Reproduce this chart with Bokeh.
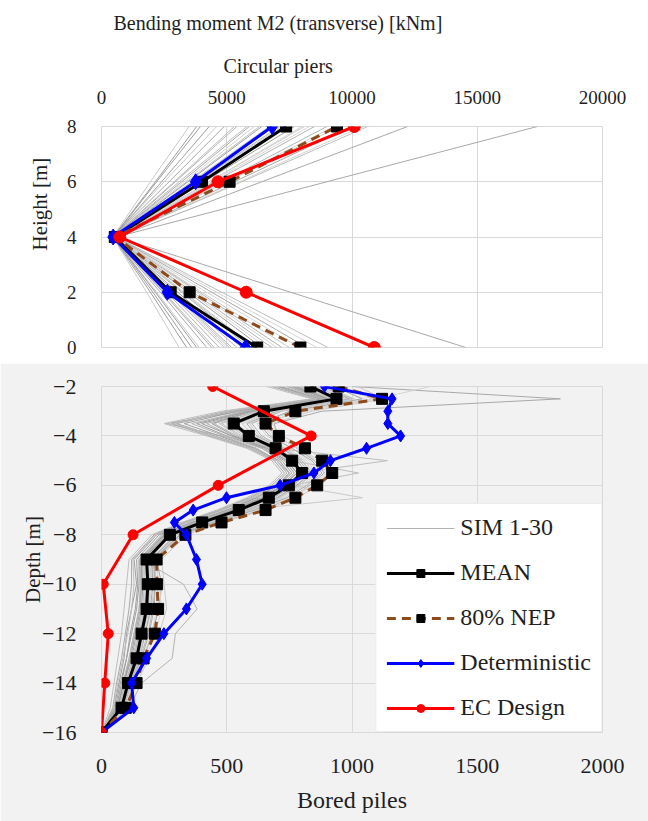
from bokeh.plotting import figure
from bokeh.layouts import column
from bokeh.models import Range1d, Title, Legend, LegendItem
from bokeh.embed import file_html
from bokeh.resources import INLINE

FONT = "Liberation Serif"
TEXT = "#1f1f1f"
GRID = "#d9d9d9"
BROWN = "#8f4a1c"

# ---------------- Circular piers: moment vs height ----------------
pier_heights = [0, 2, 4, 6, 8]
pier_ticks_x = [0, 5000, 10000, 15000, 20000]
pier_ticks_y = [0, 2, 4, 6, 8]

pier_mean = [6215, 2762, 531, 4010, 7370]
pier_nep = [7941, 3519, 560, 5113, 9402]
pier_det = [5750, 2630, 465, 3758, 6813]
pier_ec = [10890, 5777, 730, 4648, 10093]

# simulations 1-30, values at heights 0, 2, 4, 6, 8 m
pier_sims = [
    [5200, 2850, 500, 3800, 7100],
    [6100, 3300, 520, 4300, 8100],
    [3600, 2050, 480, 2200, 3950],
    [7900, 4200, 560, 4900, 9300],
    [4500, 2500, 470, 2900, 5300],
    [14540, 7550, 600, 9000, 17400],
    [6800, 3650, 540, 4500, 8500],
    [3100, 1800, 450, 1950, 3500],
    [5600, 3050, 500, 3450, 6400],
    [8600, 4600, 600, 5500, 10400],
    [4900, 2700, 480, 3100, 5800],
    [10900, 5700, 620, 6400, 12220],
    [7200, 3900, 550, 4800, 9000],
    [3900, 2200, 470, 2500, 4600],
    [6400, 3450, 520, 4100, 7700],
    [5000, 2750, 490, 3300, 6100],
    [9040, 4800, 590, 5600, 10625],
    [4200, 2350, 460, 2700, 4900],
    [5900, 3200, 510, 3700, 6900],
    [7500, 4000, 560, 5000, 9500],
    [3400, 1950, 460, 2150, 3800],
    [6600, 3550, 530, 4300, 8000],
    [5400, 2950, 500, 3600, 6700],
    [8200, 4400, 580, 5300, 10000],
    [4700, 2600, 480, 2950, 5400],
    [6000, 3250, 510, 3850, 7200],
    [3800, 2150, 470, 2400, 4300],
    [7000, 3800, 540, 4400, 8300],
    [5100, 2800, 490, 3400, 6300],
    [4400, 2450, 470, 3200, 5900],
]

# ---------------- Bored piles: moment vs depth ----------------
pile_depths = [-2, -2.5, -3, -3.5, -4, -4.5, -5, -5.5, -6, -6.5, -7, -7.5,
               -8, -9, -10, -11, -12, -13, -14, -15, -16]
pile_ticks_x = [0, 500, 1000, 1500, 2000]
pile_ticks_y = [-2, -4, -6, -8, -10, -12, -14, -16]

pile_mean = [834, 938, 648, 528, 588, 695, 761, 801, 748, 668, 548, 402,
             273, 180, 185, 180, 160, 140, 106, 80, 0]
pile_nep = [947, 1120, 774, 655, 708, 812, 881, 921, 861, 774, 655, 479,
            335, 220, 222, 226, 213, 168, 140, 97, 0]
pile_det = [890, 1160, 1143, 1143, 1194, 1058, 914, 848, 713, 499, 366, 291,
            339, 379, 402, 339, 249, 180, 120, 129, 0]
ec_depths = [-2, -4, -6, -8, -10, -12, -14, -16]
pile_ec = [444, 837, 466, 126, 7, 27, 13, 0]

# simulations 1-30, one row per simulation along pile_depths
pile_sims = [
    [780, 900, 600, 420, 520, 640, 720, 760, 700, 610, 500, 360, 240, 150, 160, 150, 130, 110, 90, 60, 0],
    [850, 980, 700, 560, 610, 720, 800, 840, 780, 700, 580, 430, 300, 200, 210, 200, 175, 150, 110, 85, 0],
    [700, 860, 520, 300, 450, 600, 700, 740, 690, 600, 480, 340, 220, 130, 140, 120, 100, 90, 70, 50, 0],
    [920, 1050, 760, 640, 680, 760, 830, 870, 810, 730, 600, 450, 310, 210, 220, 230, 200, 170, 120, 90, 0],
    [800, 920, 620, 480, 560, 680, 760, 1026, 760, 680, 560, 410, 280, 190, 190, 185, 165, 145, 110, 80, 0],
    [1000, 1832, 880, 690, 700, 780, 850, 890, 830, 760, 640, 470, 320, 220, 240, 230, 200, 170, 130, 95, 0],
    [720, 880, 560, 260, 480, 620, 700, 750, 700, 620, 510, 370, 250, 160, 327, 382, 295, 282, 160, 110, 0],
    [860, 960, 680, 540, 600, 700, 770, 810, 760, 1042, 560, 400, 260, 170, 175, 170, 150, 130, 100, 75, 0],
    [760, 900, 580, 380, 500, 650, 730, 770, 720, 640, 520, 380, 250, 150, 150, 140, 120, 100, 80, 60, 0],
    [1313, 1100, 820, 620, 660, 740, 820, 860, 800, 720, 600, 440, 300, 200, 200, 190, 170, 150, 110, 80, 0],
    [820, 940, 640, 500, 570, 690, 1141, 790, 740, 660, 540, 390, 265, 175, 180, 175, 155, 135, 100, 75, 0],
    [680, 850, 500, 280, 430, 590, 690, 730, 680, 590, 470, 330, 210, 120, 120, 110, 95, 80, 60, 45, 0],
    [900, 1000, 720, 600, 640, 730, 800, 840, 790, 710, 590, 440, 310, 205, 215, 205, 185, 155, 115, 85, 0],
    [840, 950, 660, 520, 590, 700, 770, 810, 760, 680, 560, 410, 280, 185, 190, 180, 160, 140, 105, 80, 0],
    [740, 890, 590, 400, 520, 660, 740, 780, 730, 650, 530, 390, 260, 165, 165, 160, 140, 120, 90, 65, 0],
    [950, 1080, 780, 660, 700, 780, 860, 900, 840, 750, 620, 460, 320, 215, 230, 240, 215, 175, 125, 95, 0],
    [660, 840, 480, 250, 420, 580, 680, 720, 670, 580, 460, 320, 200, 110, 100, 90, 80, 65, 50, 35, 0],
    [880, 990, 700, 580, 620, 720, 790, 830, 780, 700, 580, 430, 300, 200, 205, 195, 175, 150, 110, 80, 0],
    [790, 910, 610, 450, 540, 670, 750, 790, 740, 660, 540, 400, 270, 180, 180, 175, 150, 130, 95, 70, 0],
    [1020, 1130, 840, 680, 720, 820, 890, 930, 870, 780, 650, 480, 340, 240, 250, 260, 230, 190, 140, 105, 0],
    [710, 870, 540, 330, 470, 610, 710, 750, 700, 620, 500, 360, 230, 140, 145, 135, 115, 100, 75, 55, 0],
    [870, 970, 690, 560, 610, 710, 780, 820, 770, 690, 570, 420, 290, 195, 200, 190, 170, 150, 110, 80, 0],
    [810, 930, 630, 470, 550, 680, 750, 790, 740, 660, 540, 395, 265, 170, 170, 165, 145, 125, 95, 70, 0],
    [930, 1040, 750, 630, 670, 760, 840, 880, 820, 740, 610, 455, 315, 210, 215, 210, 190, 160, 120, 90, 0],
    [750, 895, 570, 360, 490, 640, 720, 760, 710, 630, 515, 375, 245, 155, 155, 150, 130, 110, 85, 60, 0],
    [890, 1010, 710, 590, 630, 730, 810, 850, 790, 710, 585, 430, 295, 195, 195, 185, 165, 145, 108, 80, 0],
    [770, 905, 600, 440, 530, 660, 740, 780, 725, 645, 525, 385, 255, 160, 160, 155, 135, 115, 88, 65, 0],
    [960, 1090, 790, 650, 690, 790, 870, 910, 850, 760, 630, 465, 325, 220, 225, 220, 200, 165, 122, 92, 0],
    [690, 860, 510, 290, 440, 600, 700, 740, 690, 600, 485, 345, 215, 125, 130, 120, 105, 85, 65, 48, 0],
    [830, 945, 650, 510, 580, 700, 780, 820, 765, 685, 560, 410, 275, 180, 185, 178, 158, 138, 104, 78, 0],
]

sim_greys = ["#b3b3b3", "#c9c9c9", "#9e9e9e", "#d4d4d4", "#bdbdbd", "#a8a8a8"]


def style_axes(p, tick_size, x_standoff, y_standoff):
    p.outline_line_color = GRID
    p.grid.grid_line_color = GRID
    p.grid.grid_line_width = 1
    for ax in list(p.xaxis) + list(p.yaxis):
        ax.axis_line_color = None
        ax.major_tick_line_color = None
        ax.minor_tick_line_color = None
        ax.major_tick_in = 0
        ax.major_tick_out = 0
        ax.major_label_text_font = FONT
        ax.major_label_text_font_size = tick_size
        ax.major_label_text_color = TEXT
        ax.axis_label_text_font = FONT
        ax.axis_label_text_font_style = "normal"
        ax.axis_label_text_color = TEXT
    for ax in p.xaxis:
        ax.major_label_standoff = x_standoff
    for ax in p.yaxis:
        ax.major_label_standoff = y_standoff


def text_title(text, size, align, offset, standoff):
    return Title(text=text, text_font=FONT, text_font_size=size,
                 text_font_style="normal", text_color=TEXT, align=align,
                 offset=offset, standoff=standoff)


# ---------- top figure: circular piers ----------
p1 = figure(width=648, height=363, x_range=Range1d(0, 20000), y_range=Range1d(0, 8),
            x_axis_location="above", output_backend="svg", toolbar_location=None,
            min_border_left=100, min_border_right=46, min_border_top=126,
            min_border_bottom=16)
p1.xaxis.ticker = pier_ticks_x
p1.yaxis.ticker = pier_ticks_y
style_axes(p1, "19px", 23, 25)

for i, sim in enumerate(pier_sims):
    p1.line(sim, pier_heights, line_color=sim_greys[i % len(sim_greys)], line_width=1)

p1.line(pier_mean, pier_heights, line_color="black", line_width=3)
p1.scatter(pier_mean, pier_heights, marker="square", size=11, color="black")
p1.line(pier_nep, pier_heights, line_color=BROWN, line_width=3, line_dash="9 6")
p1.scatter(pier_nep, pier_heights, marker="square", size=11, color="black")
p1.line(pier_det, pier_heights, line_color="blue", line_width=3)
p1.scatter(pier_det, pier_heights, marker="diamond", size=16, color="blue")
p1.line(pier_ec, pier_heights, line_color="red", line_width=3)
p1.scatter(pier_ec, pier_heights, marker="circle", size=12, color="red")

p1.add_layout(text_title("Circular piers", "20px", "left", 122, 22), "above")
p1.add_layout(text_title("Bending moment M2 (transverse) [kNm]", "20px", "left", 12, 15), "above")
p1.add_layout(text_title("Height [m]", "21px", "left", 97, 24), "left")

# ---------- bottom figure: bored piles ----------
p2 = figure(width=648, height=458, x_range=Range1d(0, 2000), y_range=Range1d(-16, -2),
            output_backend="svg", toolbar_location=None,
            min_border_left=101, min_border_right=46, min_border_top=23,
            min_border_bottom=89, background_fill_color="#f2f2f2",
            border_fill_color="#f2f2f2")
p2.xaxis.ticker = pile_ticks_x
p2.yaxis.ticker = pile_ticks_y
style_axes(p2, "22px", 26, 25)
p2.xaxis.axis_label = "Bored piles"
p2.xaxis.axis_label_text_font_size = "24px"
p2.xaxis.axis_label_standoff = 11
p2.yaxis.axis_label = "Depth [m]"
p2.yaxis.axis_label_text_font_size = "21px"
p2.yaxis.axis_label_standoff = -6

sim_renderer = None
for i, sim in enumerate(pile_sims):
    r = p2.line(sim, pile_depths, line_color=sim_greys[i % len(sim_greys)], line_width=1)
    if sim_renderer is None:
        sim_renderer = r

m_line = p2.line(pile_mean, pile_depths, line_color="black", line_width=3)
m_pts = p2.scatter(pile_mean, pile_depths, marker="square", size=11, color="black")
n_line = p2.line(pile_nep, pile_depths, line_color=BROWN, line_width=3, line_dash="9 6")
n_pts = p2.scatter(pile_nep, pile_depths, marker="square", size=11, color="black")
d_line = p2.line(pile_det, pile_depths, line_color="blue", line_width=3)
d_pts = p2.scatter(pile_det, pile_depths, marker="diamond", size=12, color="blue")
e_line = p2.line(pile_ec, ec_depths, line_color="red", line_width=3)
e_pts = p2.scatter(pile_ec, ec_depths, marker="circle", size=10, color="red")

legend = Legend(items=[
    LegendItem(label="SIM 1-30", renderers=[sim_renderer]),
    LegendItem(label="MEAN", renderers=[m_line, m_pts]),
    LegendItem(label="80% NEP", renderers=[n_line, n_pts]),
    LegendItem(label="Deterministic", renderers=[d_line, d_pts]),
    LegendItem(label="EC Design", renderers=[e_line, e_pts]),
], location="bottom_right")
legend.border_line_color = GRID
legend.background_fill_color = "white"
legend.background_fill_alpha = 1
legend.label_text_font = FONT
legend.label_text_font_size = "24px"
legend.label_text_color = TEXT
legend.glyph_width = 68
legend.glyph_height = 20
legend.label_height = 20
legend.spacing = 18
legend.padding = 10
legend.label_standoff = 6
legend.margin = 0
p2.add_layout(legend)

layout = column(p1, p2, spacing=0)

open("out.html", "w").write(file_html(layout, INLINE))
